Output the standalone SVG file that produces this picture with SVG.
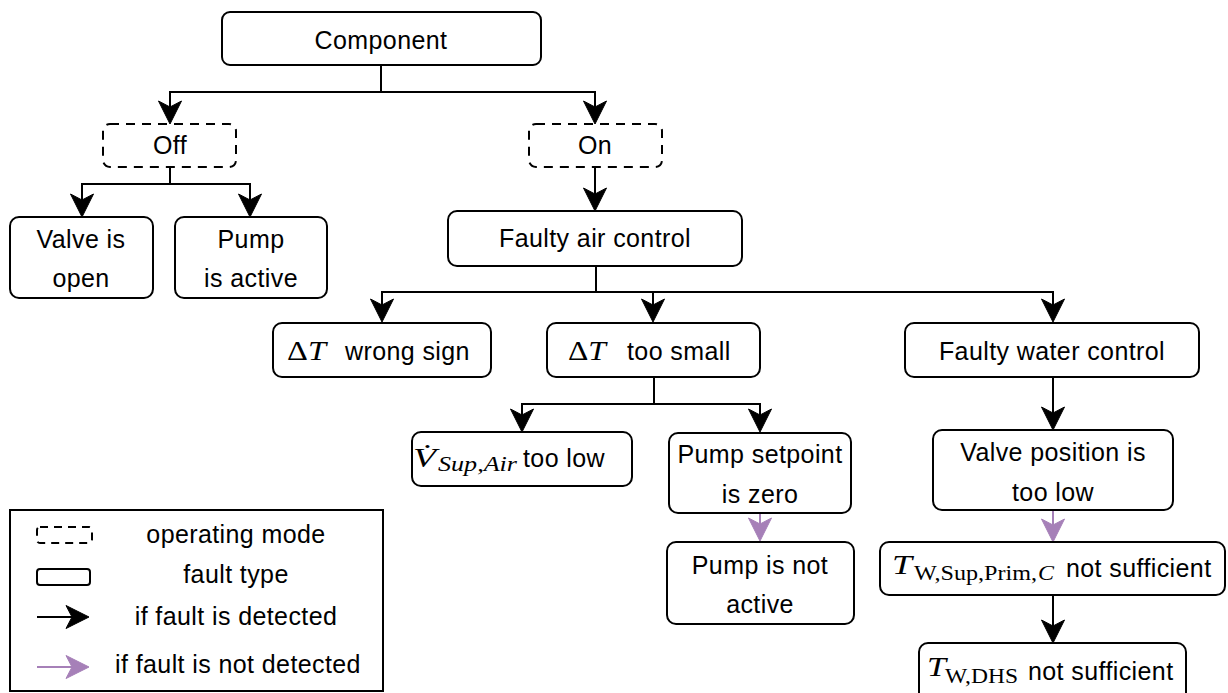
<svg xmlns="http://www.w3.org/2000/svg" width="1228" height="693" viewBox="0 0 1228 693">
<style>
  .box{fill:#fff;stroke:#000;stroke-width:2}
  .mode{fill:#fff;stroke:#000;stroke-width:2;stroke-dasharray:9 7}
  .t{font-family:"Liberation Sans",Arial,sans-serif;font-size:25px;letter-spacing:0.4px;fill:#000;text-anchor:middle}
  .ts{font-family:"Liberation Sans",Arial,sans-serif;font-size:25px;letter-spacing:0.4px;fill:#000}
  .m{font-family:"Liberation Serif","DejaVu Serif",serif;font-size:27px;fill:#000}
  .ms{font-family:"Liberation Serif","DejaVu Serif",serif;font-size:22px;fill:#000}
  .i{font-style:italic}
  .c{fill:none;stroke:#000;stroke-width:2}
  .cp{fill:none;stroke:#A680B8;stroke-width:2}
</style>
<defs>
  <marker id="ab" markerUnits="userSpaceOnUse" viewBox="-14 -14 28 28" markerWidth="28" markerHeight="28" refX="0" refY="0" orient="auto" overflow="visible">
    <path d="M12,0 L-11,-11.5 L-5,0 L-11,11.5 Z" fill="#000" stroke="#000" stroke-width="1"/>
  </marker>
  <marker id="ap" markerUnits="userSpaceOnUse" viewBox="-14 -14 28 28" markerWidth="28" markerHeight="28" refX="0" refY="0" orient="auto" overflow="visible">
    <path d="M12,0 L-11,-11.5 L-5,0 L-11,11.5 Z" fill="#A680B8" stroke="#A680B8" stroke-width="1"/>
  </marker>
</defs>

<g id="connectors">
  <path class="c" d="M381,65 V92 H170 V112" marker-end="url(#ab)"/>
  <path class="c" d="M381,92 H595 V112" marker-end="url(#ab)"/>
  <path class="c" d="M170,167 V184 H82 V205" marker-end="url(#ab)"/>
  <path class="c" d="M170,184 H250 V205" marker-end="url(#ab)"/>
  <path class="c" d="M595,167 V199" marker-end="url(#ab)"/>
  <path class="c" d="M596,266 V292 H382 V310" marker-end="url(#ab)"/>
  <path class="c" d="M596,292 H1053 V310" marker-end="url(#ab)"/>
  <path class="c" d="M653,292 V310" marker-end="url(#ab)"/>
  <path class="c" d="M654,377 V404 H522 V420" marker-end="url(#ab)"/>
  <path class="c" d="M654,404 H760 V420" marker-end="url(#ab)"/>
  <path class="c" d="M1053,377 V418" marker-end="url(#ab)"/>
  <path class="cp" d="M760,513 V529" marker-end="url(#ap)"/>
  <path class="cp" d="M1053,510 V530" marker-end="url(#ap)"/>
  <path class="c" d="M1053,595 V631" marker-end="url(#ab)"/>
</g>

<g id="component">
  <rect class="box" x="222" y="12" width="319" height="53" rx="8"/>
  <text class="t" x="381" y="49">Component</text>
</g>
<g id="off">
  <rect class="mode" x="103" y="124" width="133" height="43" rx="7"/>
  <text class="t" x="170" y="154">Off</text>
</g>
<g id="on">
  <rect class="mode" x="529" y="124" width="133" height="43" rx="7"/>
  <text class="t" x="595" y="154">On</text>
</g>
<g id="valve-open">
  <rect class="box" x="10" y="217" width="143" height="81" rx="9"/>
  <text class="t" x="81" y="248">Valve is</text>
  <text class="t" x="81" y="287">open</text>
</g>
<g id="pump-active">
  <rect class="box" x="175" y="217" width="152" height="81" rx="9"/>
  <text class="t" x="251" y="248">Pump</text>
  <text class="t" x="251" y="287">is active</text>
</g>
<g id="faulty-air">
  <rect class="box" x="448" y="211" width="294" height="55" rx="9"/>
  <text class="t" x="595" y="247">Faulty air control</text>
</g>
<g id="dt-wrong-sign">
  <rect class="box" x="273" y="323" width="218" height="54" rx="9"/>
  <text class="m" x="287" y="360" textLength="39" lengthAdjust="spacingAndGlyphs">Δ<tspan class="i">T</tspan></text>
  <text class="ts" x="345" y="360">wrong sign</text>
</g>
<g id="dt-too-small">
  <rect class="box" x="547" y="323" width="213" height="54" rx="9"/>
  <text class="m" x="568" y="360" textLength="38" lengthAdjust="spacingAndGlyphs">Δ<tspan class="i">T</tspan></text>
  <text class="ts" x="627" y="360">too small</text>
</g>
<g id="faulty-water">
  <rect class="box" x="905" y="323" width="294" height="54" rx="9"/>
  <text class="t" x="1052" y="360">Faulty water control</text>
</g>
<g id="v-sup-air">
  <rect class="box" x="412" y="432" width="220" height="54" rx="9"/>
  <text class="m i" transform="translate(413,467) scale(1.4,1)">V&#x307;</text>
  <text class="ms i" x="438" y="471" font-size="21" textLength="79" lengthAdjust="spacingAndGlyphs">Sup,Air</text>
  <text class="ts" x="523" y="467">too low</text>
</g>
<g id="pump-setpoint">
  <rect class="box" x="669" y="433" width="182" height="80" rx="9"/>
  <text class="t" x="760" y="463">Pump setpoint</text>
  <text class="t" x="760" y="503">is zero</text>
</g>
<g id="pump-not-active">
  <rect class="box" x="667" y="542" width="187" height="82" rx="9"/>
  <text class="t" x="760" y="574">Pump is not</text>
  <text class="t" x="760" y="613">active</text>
</g>
<g id="valve-position">
  <rect class="box" x="933" y="430" width="240" height="80" rx="9"/>
  <text class="t" x="1053" y="461">Valve position is</text>
  <text class="t" x="1053" y="501">too low</text>
</g>
<g id="t-sup-prim">
  <rect class="box" x="880" y="542" width="345" height="53" rx="9"/>
  <text class="m i" x="892" y="574" textLength="20" lengthAdjust="spacingAndGlyphs">T</text>
  <text class="ms" x="914" y="580" textLength="123" lengthAdjust="spacingAndGlyphs">W,Sup,Prim,</text>
  <text class="ms i" x="1038" y="580" textLength="16" lengthAdjust="spacingAndGlyphs">C</text>
  <text class="ts" x="1066" y="577">not sufficient</text>
</g>
<g id="t-dhs">
  <rect class="box" x="919" y="643" width="267" height="60" rx="9"/>
  <text class="m i" x="927" y="676" textLength="19" lengthAdjust="spacingAndGlyphs">T</text>
  <text class="ms" x="945" y="683" textLength="73" lengthAdjust="spacingAndGlyphs">W,DHS</text>
  <text class="ts" x="1028" y="680">not sufficient</text>
</g>

<g id="legend">
  <rect x="10" y="510" width="373" height="181" fill="#fff" stroke="#000" stroke-width="2"/>
  <rect x="37" y="527" width="55" height="16" rx="3" fill="none" stroke="#000" stroke-width="2" stroke-dasharray="8 6"/>
  <text class="t" x="236" y="543">operating mode</text>
  <rect x="37" y="569" width="53" height="16" rx="3" fill="none" stroke="#000" stroke-width="2"/>
  <text class="t" x="236" y="583">fault type</text>
  <path class="c" d="M37,617 H77" marker-end="url(#ab)"/>
  <text class="t" x="236" y="625">if fault is detected</text>
  <path class="cp" d="M37,667 H77" marker-end="url(#ap)"/>
  <text class="t" x="238" y="673">if fault is not detected</text>
</g>
</svg>
